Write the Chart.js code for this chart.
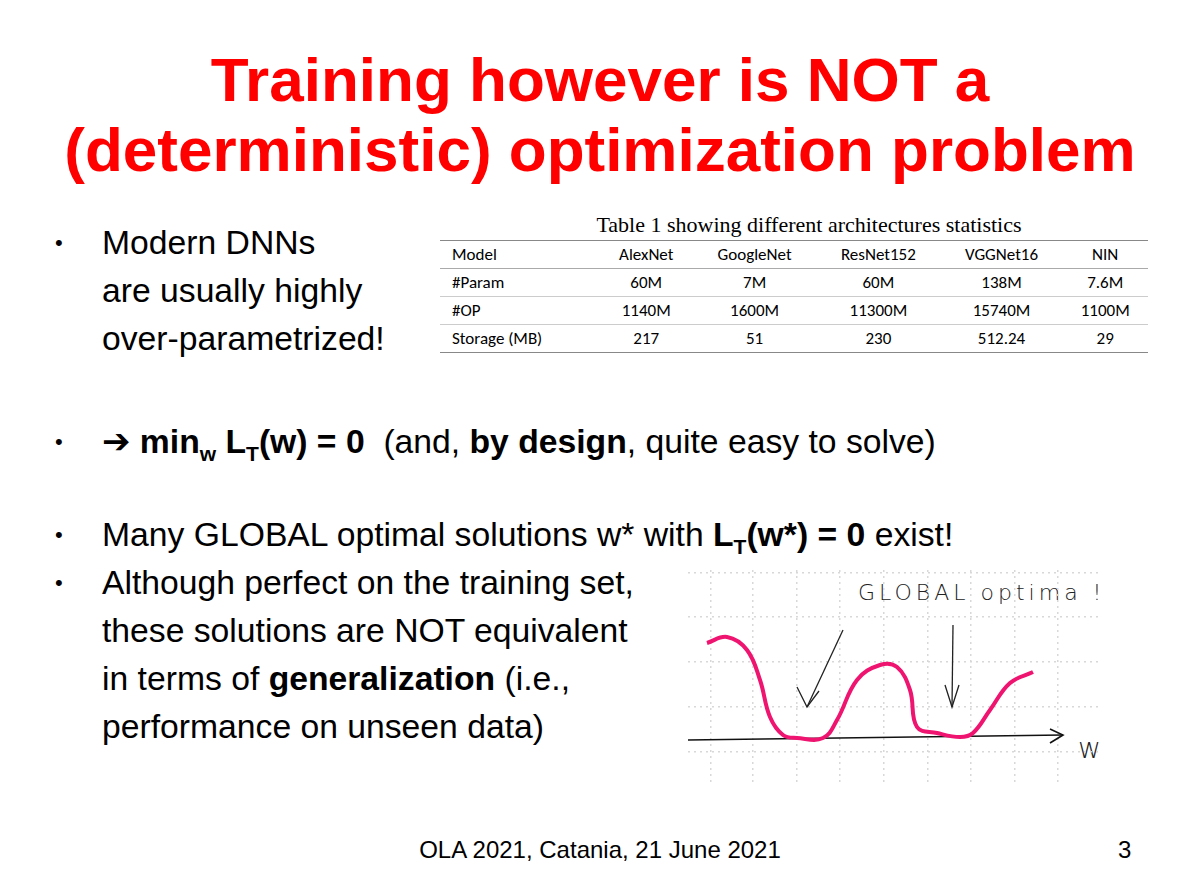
<!DOCTYPE html>
<html><head><meta charset="utf-8">
<script src="https://cdn.jsdelivr.net/npm/chart.js@4/dist/chart.umd.min.js"></script>
<style>
body{margin:0;width:1200px;height:888px;background:#fff;position:relative;font-family:"Liberation Sans",Arial,sans-serif;overflow:hidden}
.t{position:absolute;left:0;width:1200px;text-align:center;color:#f00;font-weight:bold;font-size:62px;line-height:70px}
.b{position:absolute;font-size:33.7px;color:#000;line-height:48px;white-space:nowrap}
.dot{position:absolute;left:55px;font-size:22px;margin-top:12px}
table{border-collapse:collapse;font-family:Calibri,"Liberation Sans",sans-serif;font-size:17px}
#tbl{position:absolute;left:440px;top:212px;width:708px}
#tbl .cap{font-family:"Liberation Serif",serif;font-size:22px;text-align:center;margin-left:30px}
td{padding:0 4px;height:27px;text-align:center}
td:first-child{text-align:left;padding-left:12px}
#chartwrap{position:absolute;left:688px;top:570px;width:412px;height:215px}
.hand{position:absolute;font-family:"DejaVu Sans",sans-serif;font-weight:300;color:#222}
sub{font-size:21px}
</style></head><body>
<div class="t" style="top:45px">Training however is NOT a</div>
<div class="t" style="top:115px">(deterministic) optimization problem</div>
<div class="dot" style="top:218px">•</div>
<div class="b" style="left:102px;top:218px">Modern DNNs<br>are usually highly<br>over-parametrized!</div>
<div id="tbl"><div class="cap">Table 1 showing different architectures statistics</div>
<table style="width:708px;margin-top:2px;border-top:1px solid #888;border-bottom:1px solid #888">
<tr style="border-bottom:1px solid #aaa"><td>Model</td><td>AlexNet</td><td>GoogleNet</td><td>ResNet152</td><td>VGGNet16</td><td>NIN</td></tr>
<tr style="border-bottom:1px solid #ccc"><td>#Param</td><td>60M</td><td>7M</td><td>60M</td><td>138M</td><td>7.6M</td></tr>
<tr style="border-bottom:1px solid #ccc"><td>#OP</td><td>1140M</td><td>1600M</td><td>11300M</td><td>15740M</td><td>1100M</td></tr>
<tr><td>Storage (MB)</td><td>217</td><td>51</td><td>230</td><td>512.24</td><td>29</td></tr>
</table></div>
<div class="dot" style="top:417px">•</div>
<div class="b" style="left:102px;top:417px"><b><span style="font-family:'DejaVu Sans';font-size:34px">➔</span> min<sub>w</sub> L<sub>T</sub>(w) = 0</b>&nbsp; (and, <b>by design</b>, quite easy to solve)</div>
<div class="dot" style="top:510px">•</div>
<div class="b" style="left:102px;top:510px">Many GLOBAL optimal solutions w* with <b>L<sub>T</sub>(w*) = 0</b> exist!</div>
<div class="dot" style="top:558px">•</div>
<div class="b" style="left:102px;top:558px">Although perfect on the training set,<br>these solutions are NOT equivalent<br>in terms of <b>generalization</b> (i.e.,<br>performance on unseen data)</div>
<div class="hand" style="left:858px;top:580px;font-size:22px;letter-spacing:4px">GLOBAL optima !</div>
<div class="hand" style="left:1078px;top:732px;font-size:28px">w</div>
<div style="position:absolute;left:0;width:1200px;top:836px;text-align:center;font-size:24px">OLA 2021, Catania, 21 June 2021</div>
<div style="position:absolute;left:1118px;top:836px;font-size:24px">3</div>
<div id="chartwrap"><canvas id="c"></canvas></div>
<script>
// data in pixel-like units of the sketch (x right, y up from bottom)
const curveX=[19,39,59,72,82,95,109,135,149,169,192,209,222,229,249,272,285,302,322,345];
const curveY=[142,148,135,105,68,50,47,47,65,105,120,118,95,58,52,48,52,75,102,113];
const axisX=[0,375];const axisY=[45,50];
const arrow1X=[155,119];const arrow1Y=[155,78];
const arrow1HeadX=[109,119,131];const arrow1HeadY=[98,78,94];
const arrow2X=[265,264];const arrow2Y=[160,78];
const arrow2HeadX=[257,264,271];const arrow2HeadY=[100,78,100];
const axisHeadX=[362,375,362];const axisHeadY=[56,50,42];
const gridX=[23,65,109,152,196,240,283,327,370];
const gridY=[33,78,123,168,212];
const pts=(xs,ys)=>xs.map((x,i)=>({x,y:ys[i]}));
const line=(d,color,w,t)=>({data:d,borderColor:color,borderWidth:w,pointRadius:0,tension:t||0,fill:false});
new Chart(document.getElementById('c'),{type:'line',
data:{datasets:[
line(pts(curveX,curveY),'#ee1470',4,0.4),
line(pts(axisX,axisY),'#111',1.6),
line(pts(axisHeadX,axisHeadY),'#111',1.6),
line(pts(arrow1X,arrow1Y),'#222',1.3),
line(pts(arrow1HeadX,arrow1HeadY),'#222',1.3),
line(pts(arrow2X,arrow2Y),'#222',1.3),
line(pts(arrow2HeadX,arrow2HeadY),'#222',1.3)]},
options:{responsive:true,maintainAspectRatio:false,animation:false,layout:{padding:0},
plugins:{legend:{display:false},tooltip:{enabled:false}},
scales:{x:{type:'linear',min:0,max:412,border:{display:false,dash:[2,4]},ticks:{display:false},
 afterBuildTicks:s=>{s.ticks=gridX.map(v=>({value:v}));},
 grid:{color:'#d8d8d8',lineWidth:1.5,drawTicks:false}},
 y:{type:'linear',min:0,max:215,border:{display:false,dash:[2,4]},ticks:{display:false},
 afterBuildTicks:s=>{s.ticks=gridY.map(v=>({value:v}));},
 grid:{color:'#d8d8d8',lineWidth:1.5,drawTicks:false}}}}});
</script>
</body></html>
